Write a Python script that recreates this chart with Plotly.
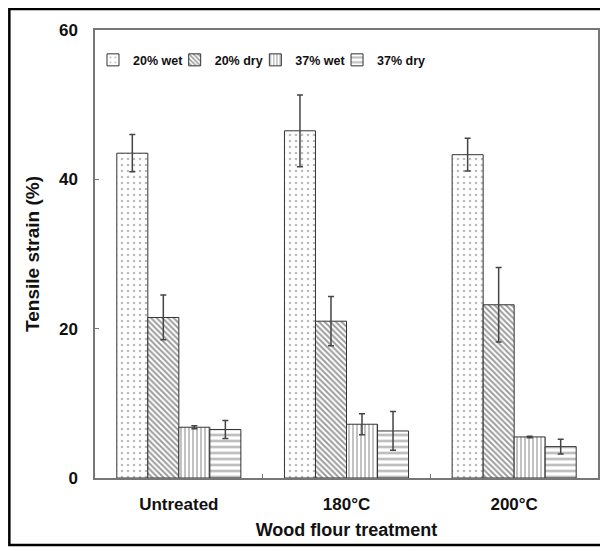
import plotly.graph_objects as go

categories = ["Untreated", "180°C", "200°C"]
series_names = ["20% wet", "20% dry", "37% wet", "37% dry"]
wet20 = [43.5, 46.5, 43.3]
wet20_err = [2.5, 4.8, 2.2]
dry20 = [21.5, 21.0, 23.2]
dry20_err = [3.0, 3.3, 5.0]
wet37 = [6.8, 7.2, 5.5]
wet37_err = [0.2, 1.4, 0.1]
dry37 = [6.5, 6.3, 4.2]
dry37_err = [1.2, 2.6, 1.0]

values = [wet20, dry20, wet37, dry37]
errors = [wet20_err, dry20_err, wet37_err, dry37_err]
patterns = [
    dict(shape=".", fgcolor="#777777", bgcolor="white", size=6, solidity=0.15),
    dict(shape="\\", fgcolor="#3a3a3a", bgcolor="white", size=4, solidity=0.5),
    dict(shape="|", fgcolor="#333333", bgcolor="white", size=4, solidity=0.3),
    dict(shape="-", fgcolor="#808080", bgcolor="white", size=6, solidity=0.45),
]

FONT = "Liberation Sans, Arial, sans-serif"
legend_ids = ["legend", "legend2", "legend3", "legend4"]
legend_x = [-0.0040, 0.1584, 0.3188, 0.4812]

fig = go.Figure()
for name, v, e, p, lid in zip(series_names, values, errors, patterns, legend_ids):
    fig.add_trace(go.Bar(
        x=categories, y=v, name=name, legend=lid,
        marker=dict(color="white", pattern=p, line=dict(color="#333333", width=1)),
        error_y=dict(type="data", array=e, color="#444444", thickness=1.5, width=3),
    ))

legend_common = dict(
    orientation="h", y=0.966, xanchor="left", yanchor="top",
    font=dict(size=12.5, family=FONT, weight="bold"),
    itemwidth=30, bgcolor="rgba(0,0,0,0)",
)

fig.update_layout(
    width=600, height=543,
    margin=dict(l=87, r=8, t=22, b=73),
    paper_bgcolor="white", plot_bgcolor="white",
    barmode="group", bargap=0.26, bargroupgap=0,
    font=dict(family=FONT, color="#111111", size=16, weight="bold"),
    showlegend=True,
    xaxis=dict(
        showline=True, linecolor="#777777", linewidth=1.5, mirror=True,
        ticks="inside", tickson="boundaries", ticklen=4, tickcolor="#777777",
        ticklabelstandoff=10,
        title=dict(text="Wood flour treatment", font=dict(size=18, weight="bold"), standoff=10),
        tickfont=dict(size=17, weight="bold"),
    ),
    yaxis=dict(
        range=[0, 60], dtick=20, showgrid=False, zeroline=False,
        showline=True, linecolor="#777777", linewidth=1.5, mirror=True,
        ticks="inside", ticklen=4, tickcolor="#777777",
        ticklabelstandoff=12,
        title=dict(text="Tensile strain (%)", font=dict(size=19, weight="bold"), standoff=14),
        tickfont=dict(size=17, weight="bold"),
    ),
)
for lid, lx in zip(legend_ids, legend_x):
    fig.update_layout({lid: dict(legend_common, x=lx)})

# outer figure frame
fig.add_shape(type="rect", xref="paper", yref="paper",
              x0=-0.1703, x1=1.0079, y0=-0.1496, y1=1.0469,
              line=dict(color="black", width=2.5), fillcolor="rgba(0,0,0,0)")

fig.write_html("out.html")
